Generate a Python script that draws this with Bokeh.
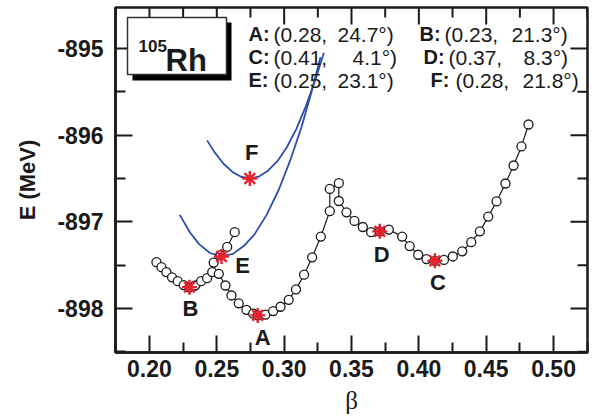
from bokeh.plotting import figure
from bokeh.models import (Range1d, FixedTicker, Label, BoxAnnotation, ColumnDataSource)
from bokeh.embed import file_html
from bokeh.resources import INLINE

# ---------------- data ----------------
branch1_beta = [0.2052, 0.2089, 0.2126, 0.2168, 0.2210, 0.2255, 0.2297, 0.2340,
                0.2384, 0.2428, 0.2466, 0.2477, 0.2527, 0.2577, 0.2633]
branch1_E = [-897.466, -897.523, -897.580, -897.640, -897.685, -897.730, -897.755, -897.735,
             -897.685, -897.650, -897.580, -897.470, -897.385, -897.290, -897.120]

branch2_beta = [0.2515, 0.2564, 0.2609, 0.2663, 0.2720, 0.2770, 0.2804, 0.2861, 0.2918,
                0.2973, 0.3034, 0.3088, 0.3148, 0.3208, 0.3272, 0.3339, 0.3339, 0.3406,
                0.3406, 0.3463, 0.3522, 0.3584, 0.3646, 0.3710, 0.3777, 0.3876, 0.3932,
                0.3995, 0.4057, 0.4119, 0.4186, 0.4252, 0.4322, 0.4389, 0.4453, 0.4515,
                0.4577, 0.4643, 0.4703, 0.4762, 0.4814]
branch2_E = [-897.600, -897.735, -897.850, -897.940, -898.015, -898.060, -898.080, -898.070,
             -898.030, -897.980, -897.900, -897.780, -897.610, -897.410, -897.170, -896.877,
             -896.620, -896.554, -896.760, -896.890, -896.990, -897.060, -897.120, -897.110,
             -897.090, -897.170, -897.280, -897.380, -897.430, -897.450, -897.440, -897.400,
             -897.340, -897.235, -897.110, -896.940, -896.765, -896.558, -896.350, -896.130,
             -895.877]

curveE_beta = [0.2225, 0.2300, 0.2370, 0.2450, 0.2535, 0.2620, 0.2700, 0.2780, 0.2870,
               0.2960, 0.3050, 0.3130, 0.3200, 0.3270]
curveE_E = [-896.92, -897.12, -897.26, -897.36, -897.40, -897.37, -897.28, -897.145,
            -896.92, -896.63, -896.27, -895.90, -895.52, -895.10]

curveF_beta = [0.2428, 0.2480, 0.2550, 0.2620, 0.2680, 0.2745, 0.2810, 0.2880, 0.2950,
               0.3020, 0.3090, 0.3160, 0.3230, 0.3295]
curveF_E = [-896.06, -896.19, -896.33, -896.43, -896.48, -896.50, -896.48, -896.41,
            -896.30, -896.14, -895.93, -895.67, -895.37, -895.05]

min_names = ["A", "B", "C", "D", "E", "F"]
min_beta = [0.2804, 0.2297, 0.4119, 0.3710, 0.2535, 0.2745]
min_E = [-898.080, -897.754, -897.450, -897.110, -897.400, -896.500]
min_beta_label = ["0.28", "0.23", "0.41", "0.37", "0.25", "0.28"]
min_gamma_label = ["24.7", "21.3", "4.1", "8.3", "23.1", "21.8"]

x_ticks = [0.20, 0.25, 0.30, 0.35, 0.40, 0.45, 0.50]
x_tick_labels = ["0.20", "0.25", "0.30", "0.35", "0.40", "0.45", "0.50"]
x_minor_ticks = [0.175, 0.225, 0.275, 0.325, 0.375, 0.425, 0.475, 0.525]
y_ticks = [-898, -897, -896, -895]
y_tick_labels = ["-898", "-897", "-896", "-895"]
y_minor_ticks = [-898.5, -897.5, -896.5, -895.5]

nucleus_mass = "105"
nucleus_symbol = "Rh"
x_title = "β"
y_title = "E (MeV)"

# ---------------- layout helpers ----------------
X0, X1 = 0.1748, 0.5252
Y0, Y1 = -898.508, -894.527
FL, FR, FT, FB = 115, 587, 7, 352
DX = (X1 - X0) / (FR - FL)   # data units per pixel, x
DY = (Y1 - Y0) / (FB - FT)   # data units per pixel, y


def sx(px):
    return X0 + (px - FL) * DX


def sy(py):
    return Y1 - (py - FT) * DY


FONT = "Liberation Sans"
INK = "#1a1a1a"
MAJ, MIN = 17, 10

p = figure(width=600, height=420, x_range=Range1d(X0, X1), y_range=Range1d(Y0, Y1),
           output_backend="svg", toolbar_location=None,
           min_border_left=FL, min_border_right=600 - FR,
           min_border_top=FT, min_border_bottom=420 - FB)
p.grid.visible = False
p.background_fill_color = "white"
p.border_fill_color = "white"
p.outline_line_color = INK
p.outline_line_width = 2.5

xa = p.below[0]
ya = p.left[0]
xa.ticker = FixedTicker(ticks=x_ticks, minor_ticks=x_minor_ticks)
ya.ticker = FixedTicker(ticks=y_ticks, minor_ticks=y_minor_ticks)

for ax in (xa, ya):
    ax.axis_line_color = INK
    ax.axis_line_width = 2.5
    ax.major_tick_in = MAJ
    ax.major_tick_out = 0
    ax.minor_tick_in = MIN
    ax.minor_tick_out = 0
    ax.major_tick_line_color = INK
    ax.minor_tick_line_color = INK
    ax.major_tick_line_width = 2
    ax.minor_tick_line_width = 2
    ax.major_label_text_font = FONT
    ax.major_label_text_font_style = "bold"
    ax.major_label_text_font_size = "23px"
    ax.major_label_text_color = INK

xa.major_label_overrides = dict(zip(x_ticks, x_tick_labels))
xa.major_label_standoff = 7
xa.axis_label = x_title
xa.axis_label_text_font = "Liberation Serif"
xa.axis_label_text_font_style = "normal"
xa.axis_label_text_font_size = "25px"
xa.axis_label_text_color = INK
xa.axis_label_standoff = 7

ya.major_label_overrides = dict(zip(y_ticks, y_tick_labels))
ya.major_label_standoff = 12
ya.axis_label = y_title
ya.axis_label_text_font = FONT
ya.axis_label_text_font_style = "bold"
ya.axis_label_text_font_size = "22px"
ya.axis_label_text_color = INK
ya.axis_label_standoff = 14

# mirrored inward ticks on top and right frame edges
top_x = x_ticks + x_minor_ticks
top_len = [MAJ] * len(x_ticks) + [MIN] * len(x_minor_ticks)
p.segment(x0=top_x, y0=[Y1] * len(top_x), x1=top_x,
          y1=[Y1 - L * DY for L in top_len], line_color=INK, line_width=2)
right_y = y_ticks + y_minor_ticks
right_len = [MAJ] * len(y_ticks) + [MIN] * len(y_minor_ticks)
p.segment(x0=[X1] * len(right_y), y0=right_y, x1=[X1 - L * DX for L in right_len],
          y1=right_y, line_color=INK, line_width=2)

# ---------------- curves ----------------
p.line(curveE_beta, curveE_E, line_color="#2b4ea8", line_width=1.8)
p.line(curveF_beta, curveF_E, line_color="#2b4ea8", line_width=1.8)

for bx, by in [(branch1_beta, branch1_E), (branch2_beta, branch2_E)]:
    p.line(bx, by, line_color=INK, line_width=1.2)
    p.scatter(bx, by, marker="circle", size=9, fill_color="white",
              line_color=INK, line_width=1.3)

src = ColumnDataSource(dict(x=min_beta, y=min_E, name=min_names))
p.scatter("x", "y", source=src, marker="asterisk", size=15,
          line_color="#e8202a", line_width=2.4)

# letter labels next to the minima (offsets in screen pixels)
lab_dx = [5, 1, 3, 2, 21, 2]
lab_dy = [22, 21, 22, 23, 9, -26]
for i, nm in enumerate(min_names):
    p.add_layout(Label(x=min_beta[i], y=min_E[i], x_offset=lab_dx[i], y_offset=-lab_dy[i],
                       text=nm, text_font=FONT, text_font_style="bold",
                       text_font_size="22px", text_color=INK,
                       text_align="center", text_baseline="middle"))

# ---------------- nucleus box ----------------
p.add_layout(BoxAnnotation(left=sx(132), right=sx(231), top=sy(22), bottom=sy(80),
                           fill_color="black", fill_alpha=1, line_color=None))
p.add_layout(BoxAnnotation(left=sx(127), right=sx(226), top=sy(17), bottom=sy(74),
                           fill_color="white", fill_alpha=1, line_color="#333333",
                           line_width=1.5, line_alpha=1))
p.add_layout(Label(x=sx(138), y=sy(45), text=nucleus_mass, text_font=FONT,
                   text_font_style="bold", text_font_size="17px", text_color=INK,
                   text_baseline="alphabetic"))
p.add_layout(Label(x=sx(165), y=sy(60), text=nucleus_symbol, text_font=FONT,
                   text_font_style="bold", text_font_size="31px", text_color=INK,
                   text_baseline="alphabetic"))

# ---------------- minima table ----------------
name_px = [248, 419, 248, 423, 248, 430]
gam_px = [337, 511, 352, 523, 337, 522]
base_py = [33.5, 33.5, 56.5, 56.5, 79.5, 79.5]
for i, nm in enumerate(min_names):
    p.add_layout(Label(x=sx(name_px[i]), y=sy(base_py[i]), text=nm + ":", text_font=FONT,
                       text_font_style="bold", text_font_size="20px", text_color=INK,
                       text_baseline="alphabetic"))
    p.add_layout(Label(x=sx(name_px[i] + 25), y=sy(base_py[i]),
                       text="(" + min_beta_label[i] + ",", text_font=FONT,
                       text_font_size="21px", text_color=INK, text_baseline="alphabetic"))
    p.add_layout(Label(x=sx(gam_px[i]), y=sy(base_py[i]),
                       text=min_gamma_label[i] + "°)", text_font=FONT,
                       text_font_size="21px", text_color=INK, text_baseline="alphabetic"))

open("out.html", "w").write(file_html(p, INLINE))
